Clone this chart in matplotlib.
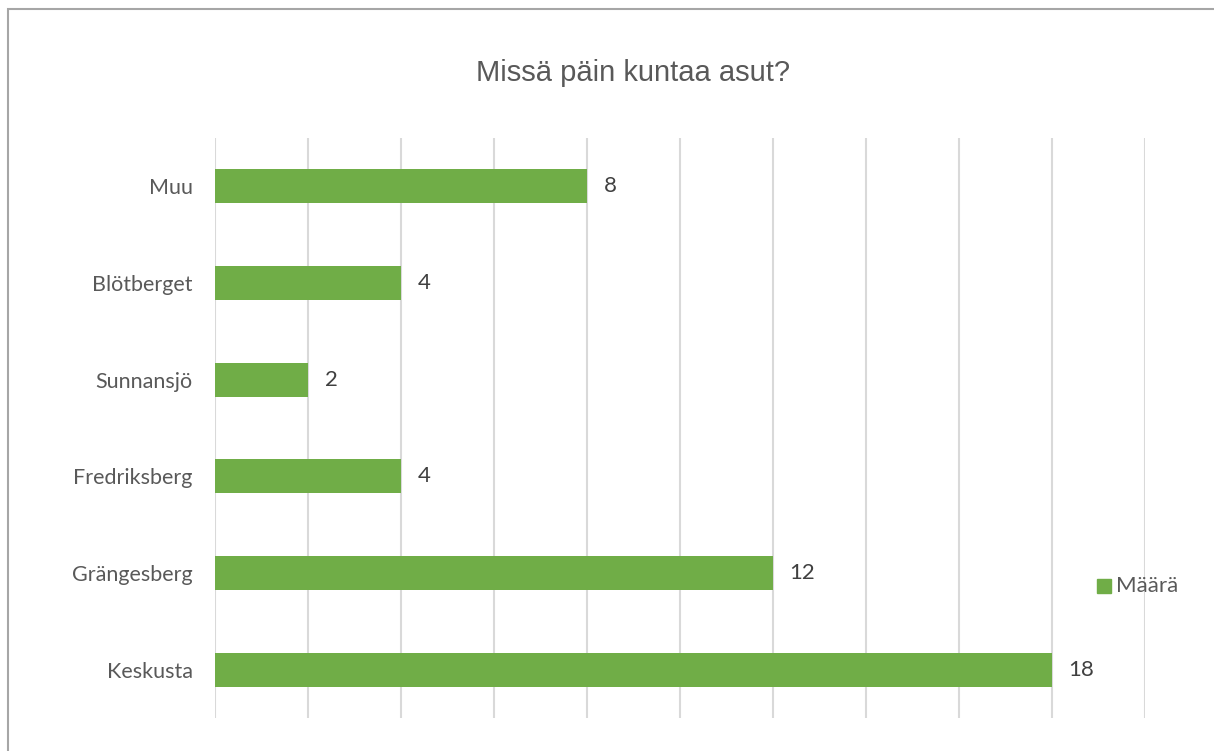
import matplotlib
matplotlib.use("Agg")
import matplotlib.pyplot as plt
from matplotlib.patches import Rectangle

# data (bottom to top)
categories = ["Keskusta", "Grängesberg", "Fredriksberg", "Sunnansjö", "Blötberget", "Muu"]
values = [18, 12, 4, 2, 4, 8]
series_name = "Määrä"
title = "Missä päin kuntaa asut?"

bar_color = "#70ad47"
text_color = "#595959"
grid_color = "#d9d9d9"

plt.rcParams['font.family'] = ['Lato', 'DejaVu Sans']

fig = plt.figure(figsize=(12.14, 7.51), dpi=100)
ax = fig.add_axes([215 / 1214, 33 / 751, 930 / 1214, 580 / 751])

y = range(len(categories))
bars = ax.barh(y, values, height=0.35, color=bar_color, label=series_name, zorder=3)

for i, v in enumerate(values):
    ax.annotate(str(v), (v, i), xytext=(12, 0), textcoords="offset points",
                va="center", ha="left", fontsize=16, color="#404040")

ax.set_xlim(0, 20)
ax.set_ylim(-0.5, len(categories) - 0.5)
ax.set_xticks(range(0, 21, 2))
ax.set_xticklabels([])
ax.tick_params(axis="x", length=0)
ax.tick_params(axis="y", length=0, pad=16, labelsize=15.5, labelcolor=text_color)
ax.set_yticks(list(y))
ax.set_yticklabels(categories)
ax.grid(axis="x", color=grid_color, linewidth=1.5, zorder=0)
for s in ax.spines.values():
    s.set_visible(False)

fig.text(633 / 1214, 1 - 73 / 751, title, ha="center", va="center",
         fontsize=21, color=text_color, family=['Liberation Sans', 'DejaVu Sans'])

# legend drawn to the right of the plot
fig.patches.append(Rectangle((1097 / 1214, 1 - 593 / 751), 14 / 1214, 14 / 751,
                             transform=fig.transFigure, color=bar_color, figure=fig))
fig.text(1116 / 1214, 1 - 586 / 751, series_name, ha="left", va="center",
         fontsize=16, color=text_color)

# chart area border
fig.patches.append(Rectangle((8 / 1214, -0.1), 1.2, 1 - 9 / 751 + 0.1,
                             transform=fig.transFigure, fill=False,
                             edgecolor="#a6a6a6", linewidth=1.5, figure=fig))

fig.savefig("out.png", dpi=100)
